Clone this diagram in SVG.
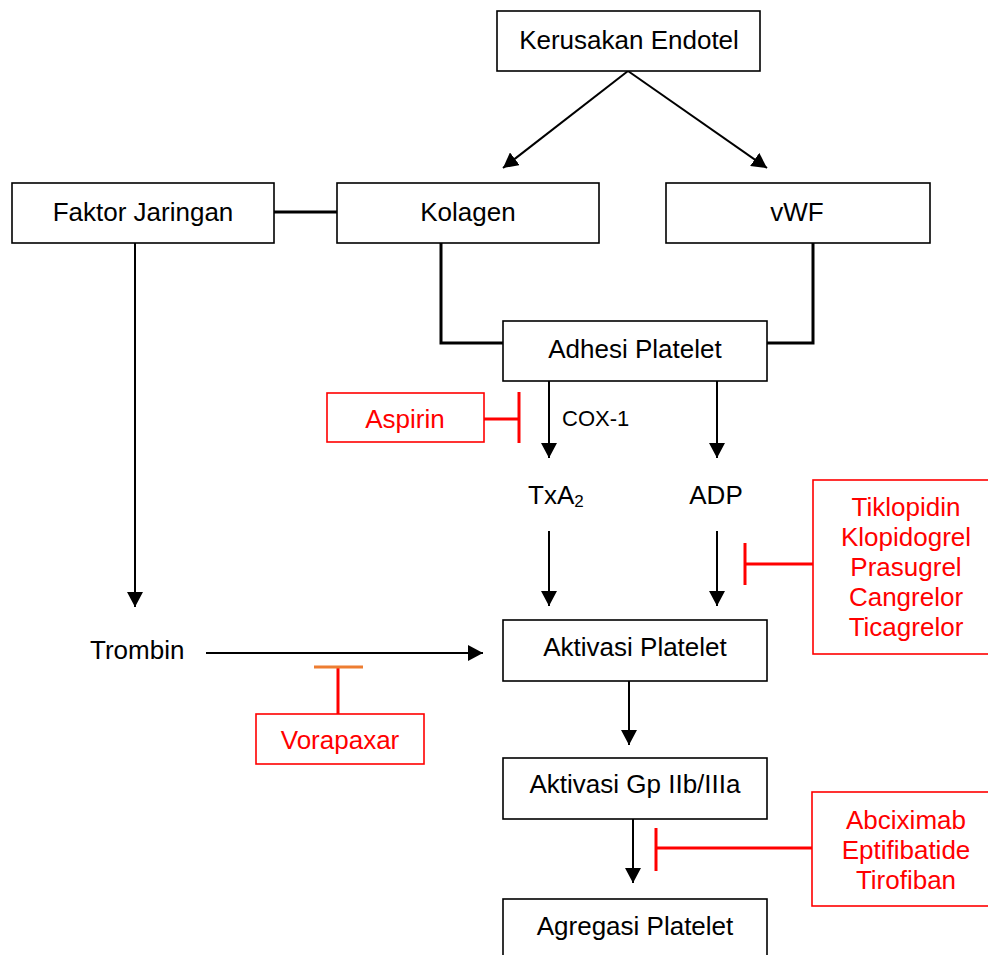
<svg xmlns="http://www.w3.org/2000/svg" width="988" height="955" viewBox="0 0 988 955">
<defs>
<style>
.box{fill:#fff;stroke:#000;stroke-width:1.6}
.rbox{fill:#fff;stroke:#ff0000;stroke-width:1.6}
.t{font-family:"Liberation Sans",Arial,sans-serif;font-size:26px;fill:#000;text-anchor:middle}
.r{font-family:"Liberation Sans",Arial,sans-serif;font-size:26px;fill:#ff0000;text-anchor:middle}
.arr{stroke:#000;stroke-width:2;fill:none;marker-end:url(#ah)}
.con{stroke:#000;stroke-width:3;fill:none}
.inh{stroke:#ff0000;stroke-width:3;fill:none}
</style>
<marker id="ah" viewBox="0 0 15 16" refX="15" refY="8" markerWidth="15" markerHeight="16" markerUnits="userSpaceOnUse" orient="auto">
<path d="M0,0 L15,8 L0,16 Z" fill="#000"/>
</marker>
</defs>
<rect width="988" height="955" fill="#fff"/>
<g id="connectors">
<line class="arr" x1="628" y1="71" x2="503" y2="168"/>
<line class="arr" x1="628" y1="71" x2="767" y2="168"/>
<line class="con" x1="274" y1="212" x2="337" y2="212"/>
<polyline class="con" points="441,243 441,343 503,343"/>
<polyline class="con" points="813,243 813,343 767,343"/>
<line class="arr" x1="135" y1="243" x2="135" y2="607"/>
<line class="arr" x1="549" y1="381" x2="549" y2="458"/>
<line class="arr" x1="717" y1="381" x2="717" y2="458"/>
<line class="arr" x1="549" y1="531" x2="549" y2="606"/>
<line class="arr" x1="717" y1="531" x2="717" y2="606"/>
<line class="arr" x1="206" y1="653" x2="483" y2="653"/>
<line class="arr" x1="629" y1="681" x2="629" y2="745"/>
<line class="arr" x1="633" y1="819" x2="633" y2="883"/>
<line class="inh" x1="484" y1="419" x2="519" y2="419"/>
<line class="inh" x1="519" y1="392" x2="519" y2="443"/>
<line class="inh" x1="745" y1="564" x2="813" y2="564"/>
<line class="inh" x1="745" y1="543" x2="745" y2="585"/>
<line class="inh" x1="338" y1="667" x2="338" y2="714"/>
<line stroke="#ed7d31" stroke-width="3" x1="314" y1="667" x2="363" y2="667"/>
<line class="inh" x1="656" y1="848" x2="812" y2="848"/>
<line class="inh" x1="656" y1="828" x2="656" y2="871"/>
</g>
<g id="kerusakan"><rect class="box" x="497" y="11" width="263" height="60"/><text class="t" x="629" y="49">Kerusakan Endotel</text></g>
<g id="faktor"><rect class="box" x="12" y="183" width="262" height="60"/><text class="t" x="143" y="221">Faktor Jaringan</text></g>
<g id="kolagen"><rect class="box" x="337" y="183" width="262" height="60"/><text class="t" x="468" y="221">Kolagen</text></g>
<g id="vwf"><rect class="box" x="666" y="183" width="264" height="60"/><text class="t" x="797" y="221">vWF</text></g>
<g id="adhesi"><rect class="box" x="503" y="321" width="264" height="60"/><text class="t" x="635" y="358">Adhesi Platelet</text></g>
<g id="aspirin"><rect class="rbox" x="327" y="393" width="157" height="49"/><text class="r" x="405" y="428">Aspirin</text></g>
<g id="cox1"><text x="562" y="426" font-family="Liberation Sans,Arial,sans-serif" font-size="22" fill="#000">COX-1</text></g>
<g id="txa2"><text x="528" y="504" font-family="Liberation Sans,Arial,sans-serif" font-size="26" fill="#000">TxA<tspan font-size="17" dy="3">2</tspan></text></g>
<g id="adp"><text class="t" x="716" y="504">ADP</text></g>
<g id="p2y12"><rect class="rbox" x="813" y="480" width="185" height="174"/>
<text class="r" x="906" y="516">Tiklopidin</text>
<text class="r" x="906" y="546">Klopidogrel</text>
<text class="r" x="906" y="576">Prasugrel</text>
<text class="r" x="906" y="606">Cangrelor</text>
<text class="r" x="906" y="636">Ticagrelor</text></g>
<g id="trombin"><text x="90" y="659" font-family="Liberation Sans,Arial,sans-serif" font-size="26" fill="#000">Trombin</text></g>
<g id="aktivasi"><rect class="box" x="503" y="620" width="264" height="61"/><text class="t" x="635" y="656">Aktivasi Platelet</text></g>
<g id="vorapaxar"><rect class="rbox" x="256" y="714" width="168" height="50"/><text class="r" x="340" y="749">Vorapaxar</text></g>
<g id="gp"><rect class="box" x="503" y="758" width="264" height="61"/><text class="t" x="635" y="793">Aktivasi Gp IIb/IIIa</text></g>
<g id="gpi"><rect class="rbox" x="812" y="792" width="186" height="114"/>
<text class="r" x="906" y="829">Abciximab</text>
<text class="r" x="906" y="859">Eptifibatide</text>
<text class="r" x="906" y="889">Tirofiban</text></g>
<g id="agregasi"><rect class="box" x="503" y="899" width="264" height="70"/><text class="t" x="635" y="935">Agregasi Platelet</text></g>
</svg>
